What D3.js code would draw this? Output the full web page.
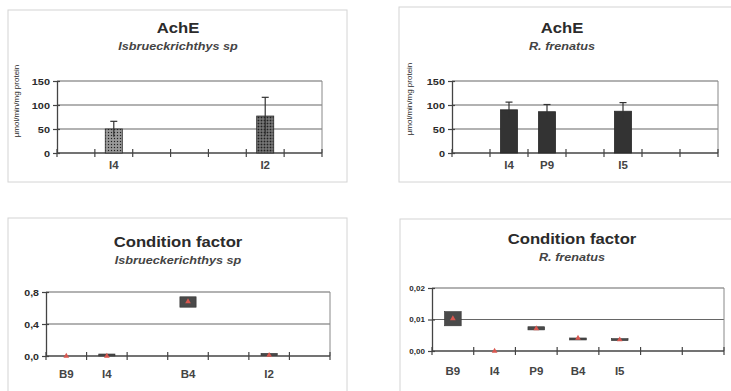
<!DOCTYPE html>
<html>
<head>
<meta charset="utf-8">
<script src="https://cdn.jsdelivr.net/npm/d3@7"></script>
<style>
  body { margin: 0; background: #fff; }
  svg { display: block; font-family: "Liberation Sans", Arial, sans-serif; }
</style>
</head>
<body>
<svg id="fig" width="731" height="391"></svg>
<script>
// Site categories shared by all four panels (last slot is empty)
const sites = ['B9', 'I4', 'P9', 'B4', 'I5', 'I2', ''];

// AchE, Isbrueckerichthys sp
const acheIsbSites = ['I4', 'I2'];
const acheIsbMean = [50, 77];
const acheIsbErr = [16, 39];

// AchE, R. frenatus
const acheFreSites = ['I4', 'P9', 'I5'];
const acheFreMean = [90, 86, 87];
const acheFreErr = [16, 15, 18];

// Condition factor, Isbrueckerichthys sp
const cfIsbSites = ['B9', 'I4', 'B4', 'I2'];
const cfIsbMean = [0.0, 0.0, 0.68, 0.01];
const cfIsbLow = [0.0, 0.0, 0.61, 0.008];
const cfIsbHigh = [0.0, 0.006, 0.74, 0.012];

// Condition factor, R. frenatus
const cfFreSites = ['B9', 'I4', 'P9', 'B4', 'I5'];
const cfFreMean = [0.0103, 0.0, 0.0071, 0.0041, 0.0036];
const cfFreLow = [0.0080, 0.0, 0.0067, 0.0035, 0.0033];
const cfFreHigh = [0.0125, 0.0, 0.0077, 0.0041, 0.0036];

const acheTicks = [0, 50, 100, 150];
const cfIsbTicks = [0, 0.4, 0.8];
const cfFreTicks = [0, 0.01, 0.02];

const SX = 1.15;          // the scan is stretched sideways a little
const TXT = '#2b2b2b';
const AXIS = '#444';
const GRID = '#666';

const svg = d3.select('#fig');

// pattern for the stippled bars
const defs = svg.append('defs');
function stipple(id, base) {
    const p = defs.append('pattern').attr('id', id)
        .attr('width', 3).attr('height', 3).attr('patternUnits', 'userSpaceOnUse');
    p.append('rect').attr('width', 3).attr('height', 3).attr('fill', base);
    p.append('rect').attr('width', 1).attr('height', 1).attr('fill', '#222');
    p.append('rect').attr('x', 1.5).attr('y', 1.5).attr('width', 1).attr('height', 1).attr('fill', '#bbb');
}
stipple('dotLight', '#8e8e8e');
stipple('dotDark', '#5a5a5a');

function stext(g, x, y, str, size, opts = {}) {
    return g.append('text')
        .attr('transform', `translate(${x},${y}) scale(${SX},1)`)
        .attr('text-anchor', opts.anchor || 'middle')
        .attr('font-size', size)
        .attr('font-weight', opts.weight || 'bold')
        .attr('font-style', opts.italic ? 'italic' : 'normal')
        .attr('fill', opts.fill || TXT)
        .text(str);
}

function panel(cfg) {
    const g = svg.append('g');
    // outer frame
    g.append('rect')
        .attr('x', cfg.box[0]).attr('y', cfg.box[1])
        .attr('width', cfg.box[2]).attr('height', cfg.box[3])
        .attr('fill', 'none').attr('stroke', '#d4d4d4').attr('stroke-width', 1);

    stext(g, cfg.titleX, cfg.titleY, cfg.title, 14.5);
    stext(g, cfg.titleX, cfg.titleY + 17, cfg.subtitle, 11, { italic: true, fill: '#444' });

    const x = d3.scaleBand().domain(sites).range([cfg.plot[0], cfg.plot[1]]);
    const y = d3.scaleLinear().domain(d3.extent(cfg.ticks)).range([cfg.plot[3], cfg.plot[2]]);

    // grid and plot border
    g.selectAll('.grid').data(cfg.ticks.slice(1)).join('line')
        .attr('x1', cfg.plot[0]).attr('x2', cfg.plot[1])
        .attr('y1', d => y(d)).attr('y2', d => y(d))
        .attr('stroke', GRID).attr('stroke-width', 1.2);
    g.append('line')
        .attr('x1', cfg.plot[1]).attr('x2', cfg.plot[1])
        .attr('y1', y(cfg.ticks[cfg.ticks.length - 1])).attr('y2', y(0))
        .attr('stroke', '#888');

    // y axis
    const yAxis = d3.axisLeft(y).tickValues(cfg.ticks).tickFormat(cfg.fmt).tickSize(4).tickSizeOuter(0);
    const ya = g.append('g').attr('transform', `translate(${cfg.plot[0]},0)`).call(yAxis);
    ya.select('.domain').attr('stroke', AXIS).attr('stroke-width', 1.3);
    ya.selectAll('.tick line').attr('x1', 3).attr('stroke', AXIS).attr('stroke-width', 1.2);
    ya.selectAll('.tick text')
        .attr('x', -7 / SX).attr('dy', '0.35em')
        .attr('transform', `scale(${SX},1)`)
        .attr('font-size', cfg.tickSize).attr('font-weight', 'bold')
        .attr('font-family', '"Liberation Sans", Arial, sans-serif')
        .attr('fill', TXT);

    // x axis: line, crossing ticks at the category edges, labels for sites with data
    g.append('line')
        .attr('x1', cfg.plot[0]).attr('x2', cfg.plot[1])
        .attr('y1', y(0)).attr('y2', y(0))
        .attr('stroke', AXIS).attr('stroke-width', 1.3);
    g.selectAll('.xt').data(d3.range(sites.length + 1)).join('line')
        .attr('x1', i => x.range()[0] + i * x.step()).attr('x2', i => x.range()[0] + i * x.step())
        .attr('y1', y(0) - 4).attr('y2', y(0) + 4)
        .attr('stroke', AXIS).attr('stroke-width', 1.2);
    cfg.sites.forEach(s => {
        stext(g, x(s) + x.bandwidth() / 2, y(0) + cfg.labelDy, s, 10, { fill: '#444' });
    });

    if (cfg.yLabel) {
        g.append('text')
            .attr('transform', `translate(${cfg.yLabelX},${cfg.yLabelY}) rotate(-90)`)
            .attr('text-anchor', 'middle')
            .attr('font-size', 8)
            .attr('fill', TXT)
            .text(cfg.yLabel);
    }
    return { g, x, y };
}

function acheBars(p, names, mean, err, fills, frac) {
    const { g, x, y } = p;
    const w = x.step() * frac;
    const rows = names.map((s, i) => ({ s, v: mean[i], e: err[i], f: fills[i] }));
    g.selectAll('.bar').data(rows).join('rect')
        .attr('x', d => x(d.s) + (x.bandwidth() - w) / 2)
        .attr('y', d => y(d.v)).attr('width', w)
        .attr('height', d => y(0) - y(d.v))
        .attr('fill', d => d.f).attr('stroke', '#2a2a2a').attr('stroke-width', 0.8);
    g.selectAll('.err').data(rows).join('line')
        .attr('x1', d => x(d.s) + x.bandwidth() / 2).attr('x2', d => x(d.s) + x.bandwidth() / 2)
        .attr('y1', d => y(d.v - d.e)).attr('y2', d => y(d.v + d.e))
        .attr('stroke', '#333').attr('stroke-width', 1.2);
    g.selectAll('.cap').data(rows).join('line')
        .attr('x1', d => x(d.s) + x.bandwidth() / 2 - 3.5).attr('x2', d => x(d.s) + x.bandwidth() / 2 + 3.5)
        .attr('y1', d => y(d.v + d.e)).attr('y2', d => y(d.v + d.e))
        .attr('stroke', '#333').attr('stroke-width', 1.2);
}

function cfBoxes(p, names, mean, low, high, frac) {
    const { g, x, y } = p;
    const w = x.step() * frac;
    const rows = names.map((s, i) => ({ s, m: mean[i], lo: low[i], hi: high[i] }));
    // boxes only where the range is not empty
    g.selectAll('.box').data(rows.filter(d => d.hi > d.lo)).join('rect')
        .attr('x', d => x(d.s) + (x.bandwidth() - w) / 2)
        .attr('y', d => Math.min(y(d.hi), y(d.lo) - 2))
        .attr('width', w)
        .attr('height', d => Math.max(2, y(d.lo) - y(d.hi)))
        .attr('fill', '#4a4a4a').attr('stroke', '#333').attr('stroke-width', 0.6);
    g.selectAll('.mk').data(rows).join('path')
        .attr('transform', d => `translate(${x(d.s) + x.bandwidth() / 2},${y(d.m)})`)
        .attr('d', d3.symbol(d3.symbolTriangle, 14))
        .attr('fill', '#d9574f');
}

const fmtComma = d => d3.format('.1f')(d).replace('.', ',');
const fmtComma2 = d => d3.format('.2f')(d).replace('.', ',');

const p1 = panel({
    box: [8, 10, 339, 172], title: 'AchE', subtitle: 'Isbrueckrichthys sp',
    titleX: 178, titleY: 33, plot: [57, 322, 81, 153], ticks: acheTicks,
    fmt: d3.format('d'), tickSize: 9.5, labelDy: 16,
    yLabel: 'µmol/min/mg protein', yLabelX: 19, yLabelY: 101, sites: acheIsbSites
});
acheBars(p1, acheIsbSites, acheIsbMean, acheIsbErr, ['url(#dotLight)', 'url(#dotDark)'], 0.45);

const p2 = panel({
    box: [399, 7, 340, 175], title: 'AchE', subtitle: 'R. frenatus',
    titleX: 562, titleY: 33, plot: [452, 718, 81, 153], ticks: acheTicks,
    fmt: d3.format('d'), tickSize: 9.5, labelDy: 16,
    yLabel: 'µmol/min/mg protein', yLabelX: 412, yLabelY: 99, sites: acheFreSites
});
acheBars(p2, acheFreSites, acheFreMean, acheFreErr, ['#333', '#333', '#333'], 0.45);

const p3 = panel({
    box: [8, 218, 339, 180], title: 'Condition factor', subtitle: 'Isbrueckerichthys sp',
    titleX: 178, titleY: 247, plot: [46, 330, 292, 356], ticks: cfIsbTicks,
    fmt: fmtComma, tickSize: 9.2, labelDy: 22, sites: cfIsbSites
});
cfBoxes(p3, cfIsbSites, cfIsbMean, cfIsbLow, cfIsbHigh, 0.4);

const p4 = panel({
    box: [400, 219, 340, 180], title: 'Condition factor', subtitle: 'R. frenatus',
    titleX: 572, titleY: 244, plot: [432, 724, 288, 351], ticks: cfFreTicks,
    fmt: fmtComma2, tickSize: 7, labelDy: 24, sites: cfFreSites
});
cfBoxes(p4, cfFreSites, cfFreMean, cfFreLow, cfFreHigh, 0.4);
</script>
</body>
</html>
